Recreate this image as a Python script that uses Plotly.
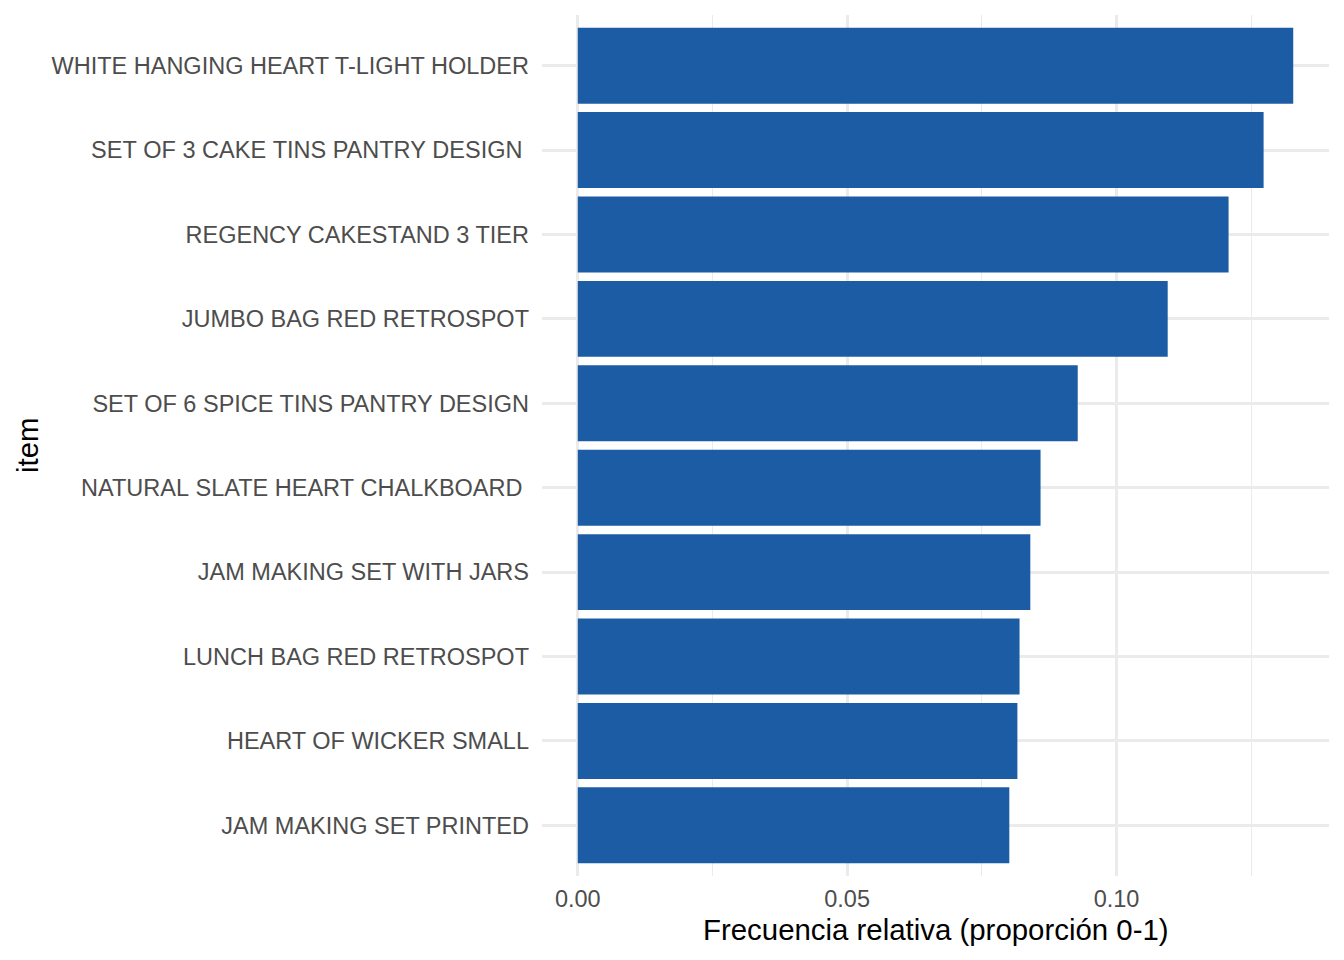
import plotly.graph_objects as go

items = [
    "WHITE HANGING HEART T-LIGHT HOLDER",
    "SET OF 3 CAKE TINS PANTRY DESIGN ",
    "REGENCY CAKESTAND 3 TIER",
    "JUMBO BAG RED RETROSPOT",
    "SET OF 6 SPICE TINS PANTRY DESIGN",
    "NATURAL SLATE HEART CHALKBOARD ",
    "JAM MAKING SET WITH JARS",
    "LUNCH BAG RED RETROSPOT",
    "HEART OF WICKER SMALL",
    "JAM MAKING SET PRINTED",
]
freq = [0.1328, 0.1273, 0.1208, 0.1095, 0.0928, 0.0859, 0.0840, 0.0820, 0.0816, 0.0801]

x_ticks = [0.0, 0.05, 0.10]
x_ticklabels = ["0.00", "0.05", "0.10"]

# bottom-to-top order for plotly category axis
order = items[::-1]
tick_text = [s.replace(" ", "\u00a0") if s.endswith(" ") else s for s in order]

FONT = "Liberation Sans, Arial, Helvetica, sans-serif"
GRID = "#EBEBEB"

fig = go.Figure(go.Bar(
    x=freq,
    y=items,
    orientation="h",
    width=0.9,
    marker=dict(color="#1C5CA5", line=dict(width=0)),
))

xmax = max(freq)
pad = xmax * 0.05

fig.update_layout(
    width=1336, height=952,
    margin=dict(l=534, r=15, t=7, b=84),
    paper_bgcolor="white", plot_bgcolor="white",
    font=dict(family=FONT, size=23.5, color="#4D4D4D"),
    showlegend=False,
    bargap=0.1,
    xaxis=dict(
        range=[-pad, xmax + pad],
        tickvals=x_ticks, ticktext=x_ticklabels,
        showgrid=True, gridcolor=GRID, gridwidth=2.6,
        zeroline=False, showline=False, ticks="",
        ticklabelstandoff=6,
        tickfont=dict(size=23.5, color="#4D4D4D", family=FONT),
        minor=dict(tick0=0, dtick=0.025, showgrid=True, gridcolor=GRID, gridwidth=1.4, ticks=""),
        automargin=False,
    ),
    yaxis=dict(
        type="category",
        categoryorder="array", categoryarray=order,
        tickvals=order, ticktext=tick_text,
        range=[-0.6, len(order) - 0.4],
        showgrid=True, gridcolor=GRID, gridwidth=2.6,
        zeroline=False, showline=False, ticks="",
        ticklabelstandoff=12,
        tickfont=dict(size=23.5, color="#4D4D4D", family=FONT),
        automargin=False,
    ),
    annotations=[
        dict(text="Frecuencia relativa (proporción 0-1)", xref="paper", yref="paper",
             x=0.5, y=-(930 - 876) / 861, xanchor="center", yanchor="middle",
             showarrow=False, font=dict(size=29.4, color="black", family=FONT)),
        dict(text="item", xref="paper", yref="paper",
             x=(27 - 542) / 787, y=1 - (445 - 15) / 861, xanchor="center", yanchor="middle",
             textangle=-90, showarrow=False, font=dict(size=29.4, color="black", family=FONT)),
    ],
)

fig.write_html("out.html")
